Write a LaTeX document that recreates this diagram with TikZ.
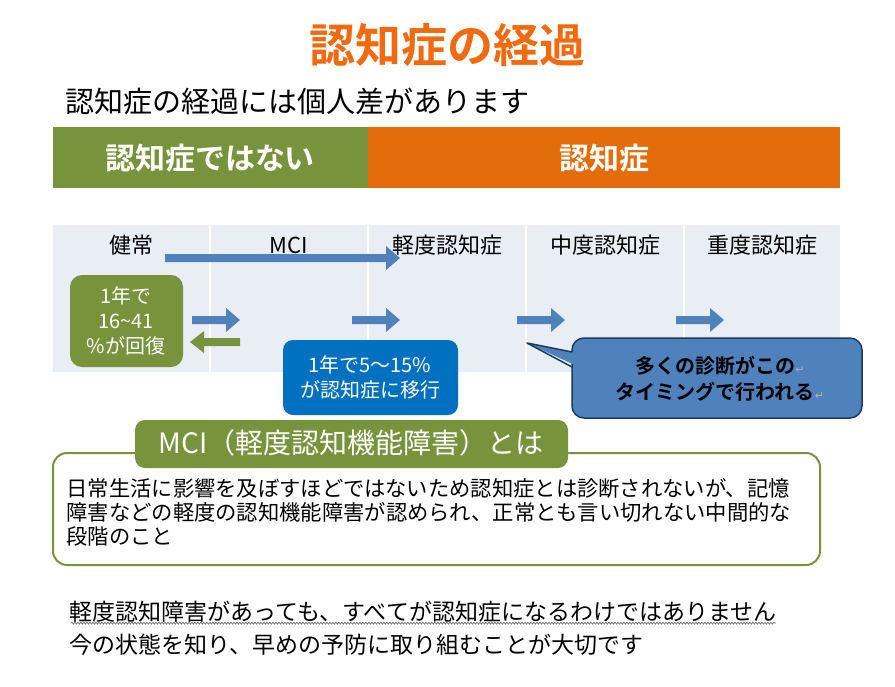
\documentclass[tikz,border=0pt]{standalone}
\usepackage{fontspec}
\setmainfont{Noto Sans CJK JP}
\newfontfamily\jpb{Noto Sans CJK JP Bold}
\newfontfamily\sym{DejaVu Sans}
\usetikzlibrary{decorations.pathmorphing}
\definecolor{ttl}{HTML}{F26A10}
\definecolor{grn}{HTML}{77933C}
\definecolor{org}{HTML}{E46C0A}
\definecolor{pnl}{HTML}{E9EDF4}
\definecolor{arw}{HTML}{4F81BD}
\definecolor{bbx}{HTML}{0070C0}
\definecolor{cdk}{HTML}{1F3A5F}
\newcommand{\rarrow}[4]{%
  \fill[#4] (#1,#3-4) -- (#2-14,#3-4) -- (#2-14,#3-12) -- (#2,#3) -- (#2-14,#3+12) -- (#2-14,#3+4) -- (#1,#3+4) -- cycle;}
\begin{document}
\begin{tikzpicture}[x=1pt,y=-1pt]
\fill[white] (0,0) rectangle (895,686);
\useasboundingbox (0,0) rectangle (895,686);
\node[text=ttl,font=\jpb\fontsize{46}{50}\selectfont] (title) at (447,45) {認知症の経過};
\node[anchor=west,font=\fontsize{29}{34}\selectfont] (sub) at (62,101) {認知症の経過には個人差があります};
\fill[grn] (53,127) rectangle (368,188);
\fill[org] (368,127) rectangle (840,188);
\node[text=white,font=\jpb\fontsize{30}{34}\selectfont] (nd) at (210,158) {認知症ではない};
\node[text=white,font=\jpb\fontsize{30}{34}\selectfont] (d) at (604,158) {認知症};
\fill[pnl] (53,225) rectangle (840,372);
\foreach \x in {210,368,526,684} \draw[white,line width=1.2] (\x,225) -- (\x,372);
\foreach \x/\t/\n in {131/健常/c1,289/MCI/c2,447/軽度認知症/c3,605/中度認知症/c4,762/重度認知症/c5}
  \node[font=\fontsize{22}{26}\selectfont] (\n) at (\x,245) {\t};
\rarrow{165}{400}{258}{arw}
\fill[grn,rounded corners=12] (70,275) rectangle (183,367);
\node[text=white,align=center,font=\fontsize{20}{25}\selectfont] (gb) at (126,321) {1年で\\16\~{}41\\\%が回復};
\rarrow{192}{240}{320}{arw}
\fill[grn] (240,338) -- (204,338) -- (204,331) -- (190,342) -- (204,353) -- (204,346) -- (240,346) -- cycle;
\rarrow{352}{400}{320}{arw}
\rarrow{517}{565}{320}{arw}
\rarrow{676}{724}{320}{arw}
\fill[bbx,rounded corners=10] (283,340) rectangle (458,415);
\node[text=white,align=center,font=\fontsize{20}{25}\selectfont] (bb) at (370,377) {1年で5～15\%\\が認知症に移行};
\draw[cdk,line width=1.5,fill=arw,rounded corners=12] (572,338) rectangle (862,418);
\fill[arw] (527,343) -- (590,356) -- (590,372) -- cycle;
\draw[cdk,line width=1.5,line join=round] (572,367) -- (527,343) -- (572,352);
\node[align=center,font=\jpb\fontsize{20}{26}\selectfont] (co) at (720,379) {多くの診断がこの{\color{gray!60}\sym\fontsize{11}{11}\selectfont↵}\\タイミングで行われる{\color{gray!60}\sym\fontsize{11}{11}\selectfont↵}};
\draw[grn,line width=2,fill=white,rounded corners=14] (53,453) rectangle (820,565);
\fill[grn,rounded corners=10] (135,420) rectangle (568,468);
\node[text=white,font=\fontsize{28}{32}\selectfont] (mh) at (351,443) {MCI（軽度認知機能障害）とは};
\node[anchor=north west,align=left,font=\fontsize{21.3}{24}\selectfont] (desc) at (63,475) {日常生活に影響を及ぼすほどではないため認知症とは診断されないが、記憶\\障害などの軽度の認知機能障害が認められ、正常とも言い切れない中間的な\\段階のこと};
\node[anchor=west,font=\fontsize{23}{26}\selectfont] (b1) at (66,612) {軽度認知障害があっても、すべてが認知症になるわけではありません};
\node[anchor=west,font=\fontsize{23}{26}\selectfont] (b2) at (66,645) {今の状態を知り、早めの予防に取り組むことが大切です};
\draw[black!70,line width=0.5,decorate,decoration={snake,amplitude=1,segment length=3}] ([xshift=5pt,yshift=3pt]b1.south west) -- ([xshift=-4pt,yshift=3pt]b1.south east);
\end{tikzpicture}
\end{document}
